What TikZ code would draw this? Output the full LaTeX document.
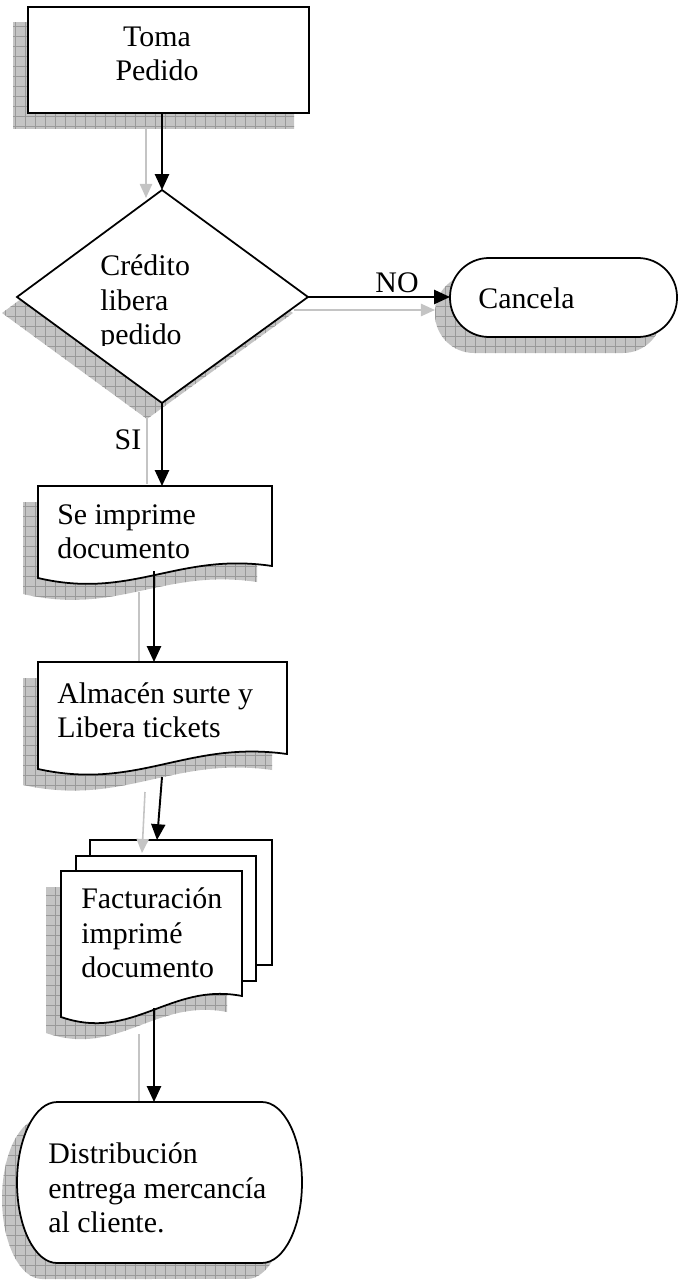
\documentclass[tikz,border=0pt]{standalone}
\usepackage{fontspec}
\setmainfont{Liberation Serif}
\usetikzlibrary{arrows.meta}
\definecolor{shadowgray}{HTML}{C4C4C4}
\definecolor{gridgray}{HTML}{999999}
\definecolor{ghostgray}{HTML}{C4C4C4}
\newcommand\shadowshape[1]{%
  \begin{scope}[shift={(-15,16)}]
    \begin{scope}
      \clip #1;
      \fill[shadowgray] (-40,-40) rectangle (720,1320);
      \draw[gridgray,line width=0.4pt,step=0.2cm] (-40,-40) grid (720,1320);
    \end{scope}
  \end{scope}}
\def\pToma{(28,7) rectangle (309,113)}
\def\pDia{(162,190) -- (308,297) -- (162,403) -- (17,297) -- cycle}
\def\pCan{[rounded corners=0.78cm] (450,258) rectangle (677,337)}
\def\pDocA{(38,486) -- (272,486) -- (272,566) .. controls (178,552) and (132,600) .. (38,578) -- cycle}
\def\pDocB{(38,662) -- (287,662) -- (287,754) .. controls (187,740) and (138,791) .. (38,769) -- cycle}
\def\pFront{(61,871) -- (242,871) -- (242,996) .. controls (170,982) and (133,1042) .. (61,1017) -- cycle}
\def\pDist{(57,1102) -- (262,1102) arc[start angle=90,end angle=-90,x radius=0.8cm,y radius=1.61cm] -- (57,1263) arc[start angle=270,end angle=90,x radius=0.8cm,y radius=1.61cm] -- cycle}
\tikzset{
  shape line/.style={draw=black,fill=white,line width=1pt},
  flow/.style={line width=1.1pt,-{Triangle[length=9pt,width=8pt]}},
  ghost/.style={line width=0.9pt,draw=ghostgray,-{Triangle[length=8pt,width=7pt]}},
  ghostline/.style={line width=0.9pt,draw=ghostgray},
  txt/.style={inner sep=0pt,align=left,font=\fontsize{17}{19.5}\selectfont},
}
\begin{document}
\begin{tikzpicture}[x=0.02cm,y=-0.02cm]
\useasboundingbox (0,0) rectangle (679,1280);
% shadows
\shadowshape{\pToma}
\shadowshape{\pDia}
\shadowshape{\pCan}
\shadowshape{\pDocA}
\shadowshape{\pDocB}
\shadowshape{\pFront}
\shadowshape{\pDist}
% shapes
\path[shape line,line width=1.3pt] \pToma;
\path[shape line] \pDia;
\path[shape line] \pCan;
\path[shape line] \pDocA;
\path[shape line] \pDocB;
\path[shape line] (90,840) rectangle (272,965);
\path[shape line] (76,856) rectangle (256,981);
\path[shape line] \pFront;
\path[shape line] \pDist;
% shadow connectors
\coordinate (g1a) at (146,127); \coordinate (g1b) at (146,198);
\coordinate (g2a) at (294,310); \coordinate (g2b) at (435,310);
\coordinate (g3a) at (147,418); \coordinate (g3b) at (147,484);
\coordinate (g4a) at (139,592); \coordinate (g4b) at (139,661);
\coordinate (g5a) at (145,792); \coordinate (g5b) at (142,853);
\coordinate (g6a) at (139,1034); \coordinate (g6b) at (139,1101);
\draw[ghost] (g1a) -- (g1b);
\draw[ghost] (g2a) -- (g2b);
\draw[ghostline] (g3a) -- (g3b);
\draw[ghostline] (g4a) -- (g4b);
\draw[ghost] (g5a) -- (g5b);
\draw[ghostline] (g6a) -- (g6b);
% texts
\node[txt,align=center] (toma) at (157,54) {Toma\\Pedido};
\begin{scope}
  \clip (90,240) rectangle (260,345);
  \node[txt,anchor=west] (credito) at (100,303) {Crédito\\libera\\pedido};
\end{scope}
\node[txt,anchor=west] (cancela) at (478,298) {Cancela};
\node[txt,anchor=west] (imprime) at (57,532) {Se imprime\\documento};
\node[txt,anchor=west] (almacen) at (57,710) {Almacén surte y\\Libera tickets};
\node[txt,anchor=west] (factura) at (81,933) {Facturación\\imprimé\\documento};
\node[txt,anchor=west] (distrib) at (48,1188) {Distribución\\entrega mercancía\\al cliente.};
\node[txt] (no) at (397,283) {NO};
\node[txt] (si) at (128,440) {SI};
% connector end points
\coordinate (tomaS) at (162,113);
\coordinate (diaN) at (162,190);
\coordinate (diaE) at (308,297);
\coordinate (canW) at (450,297);
\coordinate (diaS) at (162,403);
\coordinate (docAN) at (162,486);
\coordinate (docAS) at (154,571);
\coordinate (docBN) at (154,662);
\coordinate (docBS) at (162,777);
\coordinate (multiN) at (157,840);
\coordinate (multiS) at (154,1008);
\coordinate (distN) at (154,1102);
\draw[flow] (tomaS) -- (diaN);
\draw[flow] (diaE) -- (canW);
\draw[flow] (diaS) -- (docAN);
\draw[flow] (docAS) -- (docBN);
\draw[flow] (docBS) -- (multiN);
\draw[flow] (multiS) -- (distN);
\end{tikzpicture}
\end{document}
